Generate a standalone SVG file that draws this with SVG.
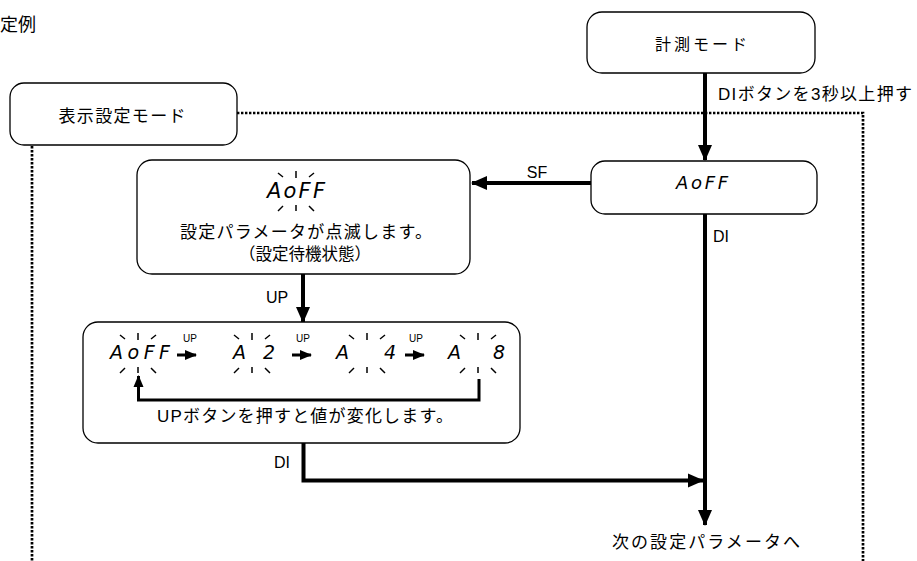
<svg xmlns="http://www.w3.org/2000/svg" width="917" height="561" viewBox="0 0 917 561">
<style>
.box{fill:#fff;stroke:#000;stroke-width:1.3}
.t{font-family:"Liberation Sans","Noto Sans CJK JP",sans-serif;fill:#000}
.seg{font-family:"DejaVu Sans",sans-serif;font-style:oblique;fill:#000}
.thick{fill:none;stroke:#000;stroke-width:4}
.mid{fill:none;stroke:#000;stroke-width:3}
.dot{fill:none;stroke:#000;stroke-width:2.7;stroke-dasharray:2.4 1.6}
.bl{stroke:#000;stroke-width:1.5}
</style>
<defs>
<marker id="ah" markerUnits="userSpaceOnUse" markerWidth="16" markerHeight="16" viewBox="0 0 16 16" refX="15" refY="8" orient="auto"><path d="M0,1 L16,8 L0,15 z" fill="#000"/></marker>
<marker id="as" markerUnits="userSpaceOnUse" markerWidth="12" markerHeight="12" viewBox="0 0 12 12" refX="11" refY="6" orient="auto"><path d="M0,1 L12,6 L0,11 z" fill="#000"/></marker>
<g id="blink" class="bl">
<line x1="0" y1="-20" x2="0" y2="-13"/><line x1="-18" y1="-18" x2="-13" y2="-14"/><line x1="13" y1="-14" x2="18" y2="-18"/>
<line x1="0" y1="14" x2="0" y2="20"/><line x1="-18" y1="20" x2="-13" y2="15"/><line x1="13" y1="15" x2="18" y2="20"/>
</g>
</defs>
<rect width="917" height="561" fill="#fff"/>
<text class="t" x="36" y="31" font-size="18" text-anchor="end">定例</text>

<g id="connectors">
<path class="dot" d="M237,113 H863 V561"/>
<path class="dot" d="M32,146 V561"/>
<path class="thick" d="M705,73 V160" marker-end="url(#ah)"/>
<path class="thick" d="M591,183 H472" marker-end="url(#ah)"/>
<path class="thick" d="M303,274 V322" marker-end="url(#ah)"/>
<path class="thick" d="M705,214 V525" marker-end="url(#ah)"/>
<path class="thick" d="M303.5,443 V480.5 H703" marker-end="url(#ah)"/>
<text class="t" x="718" y="100" font-size="17" textLength="194">DIボタンを3秒以上押す</text>
<text class="t" x="537" y="178" font-size="16" text-anchor="middle">SF</text>
<text class="t" x="277" y="303" font-size="16" text-anchor="middle">UP</text>
<text class="t" x="713" y="242" font-size="16">DI</text>
<text class="t" x="290" y="468" font-size="16" text-anchor="end">DI</text>
<text class="t" x="706" y="548" font-size="17" text-anchor="middle" textLength="188">次の設定パラメータへ</text>
</g>

<g id="n-keisoku">
<rect class="box" x="587" y="12" width="228" height="61" rx="15"/>
<text class="t" x="701" y="50" font-size="16" text-anchor="middle" textLength="92">計測モード</text>
</g>

<g id="n-hyoji">
<rect class="box" x="10" y="83" width="227" height="62" rx="14"/>
<text class="t" x="122" y="122" font-size="17" text-anchor="middle" textLength="127">表示設定モード</text>
</g>

<g id="n-aoff">
<rect class="box" x="591" y="161" width="226" height="53" rx="14"/>
<text class="seg" x="702" y="189" font-size="18" text-anchor="middle" textLength="52">AoFF</text>
</g>

<g id="n-blink">
<rect class="box" x="137" y="160" width="333" height="114" rx="15"/>
<text class="seg" x="296" y="198" font-size="21" text-anchor="middle" textLength="58">AoFF</text>
<use href="#blink" x="296" y="191"/>
<text class="t" x="306" y="238" font-size="17" text-anchor="middle" textLength="252">設定パラメータが点滅します。</text>
<text class="t" x="305" y="260" font-size="16.5" text-anchor="middle">（設定待機状態）</text>
</g>

<g id="n-change">
<rect class="box" x="83" y="322" width="437" height="121" rx="15"/>
<text class="seg" x="140" y="359" font-size="19" text-anchor="middle" textLength="60">AoFF</text>
<use href="#blink" x="138" y="353"/>
<text class="seg" x="233" y="359" font-size="19">A</text>
<text class="seg" x="263" y="359" font-size="19">2</text>
<use href="#blink" x="252" y="353"/>
<text class="seg" x="336" y="359" font-size="19">A</text>
<text class="seg" x="384" y="359" font-size="19">4</text>
<use href="#blink" x="367" y="353"/>
<text class="seg" x="448" y="359" font-size="19">A</text>
<text class="seg" x="493" y="359" font-size="19">8</text>
<use href="#blink" x="478" y="353"/>
<path class="mid" d="M177,355 H196" marker-end="url(#as)"/>
<path class="mid" d="M292,355 H311" marker-end="url(#as)"/>
<path class="mid" d="M405,355 H424" marker-end="url(#as)"/>
<text class="t" x="190" y="342" font-size="10" text-anchor="middle">UP</text>
<text class="t" x="303" y="342" font-size="10" text-anchor="middle">UP</text>
<text class="t" x="416" y="342" font-size="10" text-anchor="middle">UP</text>
<path class="mid" d="M479,379 V400 H138.5 V376" marker-end="url(#as)"/>
<text class="t" x="305" y="422" font-size="17" text-anchor="middle" textLength="296">UPボタンを押すと値が変化します。</text>
</g>
</svg>
